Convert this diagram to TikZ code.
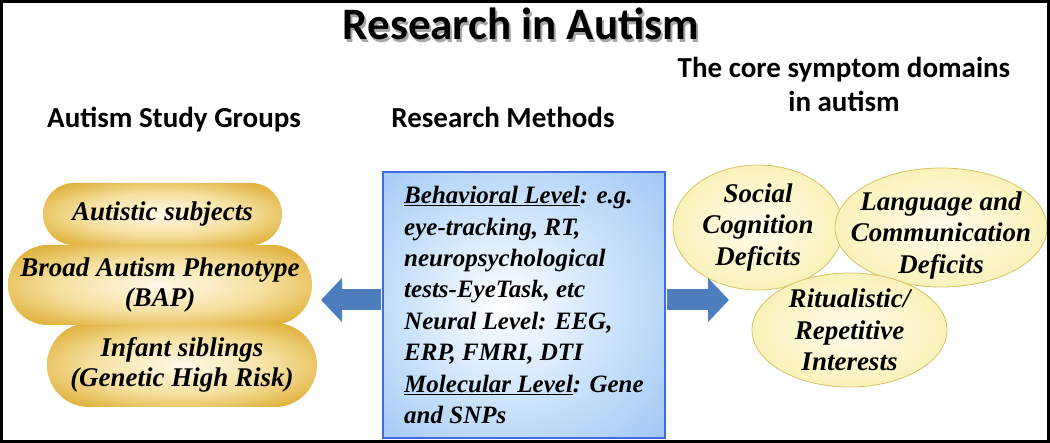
\documentclass[tikz,border=0pt]{standalone}
\usepackage{fontspec}
\setmainfont{Liberation Serif}
\newfontfamily\headfont{Carlito}
\usetikzlibrary{arrows.meta}
\usetikzlibrary{shapes.geometric,shapes.misc}

\definecolor{goldedge}{RGB}{196,140,14}
\definecolor{goldmid}{RGB}{222,174,52}
\definecolor{goldpale}{RGB}{246,224,160}
\definecolor{goldlight}{RGB}{255,249,232}
\definecolor{creamfill}{RGB}{250,242,186}
\definecolor{creamlight}{RGB}{255,252,236}
\definecolor{creamedge}{RGB}{214,194,96}
\definecolor{boxblue}{RGB}{128,178,238}
\definecolor{boxpale}{RGB}{205,228,251}
\definecolor{boxedge}{RGB}{64,106,228}
\definecolor{arrowblue}{RGB}{76,126,190}

\pgfdeclareradialshading{goldpill}{\pgfpoint{0bp}{0bp}}{color(0bp)=(goldlight);
  color(17bp)=(goldpale); color(32bp)=(goldmid); color(44bp)=(goldedge); color(50bp)=(goldedge)}
\pgfdeclareradialshading{methodsfill}{\pgfpoint{-4bp}{0bp}}{color(0bp)=(white);
  color(18bp)=(boxpale); color(50bp)=(boxblue)}

\begin{document}
\begin{tikzpicture}[x=1pt,y=-1pt,
    heading/.style={font=\headfont\bfseries\fontsize{29}{34}\selectfont,align=center},
    group/.style={rounded rectangle,inner sep=0pt,shade,shading=goldpill,
      align=center,font=\bfseries\itshape\fontsize{27}{29.5}\selectfont},
    symptom/.style={ellipse,inner sep=0pt,draw=creamedge,line width=0.8pt,
      inner color=creamlight,outer color=creamfill},
    symptomtext/.style={align=center,font=\bfseries\itshape\fontsize{27}{31.5}\selectfont},
    bigarrow/.style={line width=21pt,draw=arrowblue,-{Triangle[width=43pt,length=21pt]}}]
  \useasboundingbox (0,0) rectangle (1050,443);

  % title with its shadow
  \node[anchor=base,text=black!35,font=\headfont\bfseries\fontsize{45}{50}\selectfont] (titleshadow) at (523,43) {Research in Autism};
  \node[anchor=base,font=\headfont\bfseries\fontsize{45}{50}\selectfont] (title) at (521,40) {Research in Autism};

  \node[heading,anchor=base] (groupshead) at (174,128) {Autism Study Groups};
  \node[heading,anchor=base] (methodshead) at (503,128) {Research Methods};
  \node[heading,anchor=base] (symptomshead) at (844,112) {The core symptom domains\\in autism};

  % study groups
  \node[group,minimum width=239,minimum height=62] (subjects) at (162.5,214) {Autistic subjects};
  \node[group,minimum width=270,minimum height=84] (siblings) at (182,365) {Infant siblings\\(Genetic High Risk)};
  \node[group,minimum width=304,minimum height=80] (bap) at (160,285) {Broad Autism Phenotype\\(BAP)};

  % research methods
  \node[minimum width=282,minimum height=266,draw=boxedge,line width=2pt,
    shade,shading=methodsfill,align=left,
    font=\bfseries\itshape\fontsize{25}{31.4}\selectfont] (methods) at (524,305)
    {\underline{Behavioral Level}: e.g.\\
     eye-tracking, RT,\\
     neuropsychological\\
     tests-EyeTask, etc\\
     Neural Level: EEG,\\
     ERP, FMRI, DTI\\
     \underline{Molecular Level}: Gene\\
     and SNPs};

  % symptom domains
  \node[symptom,minimum width=170,minimum height=125] (social) at (758,227.5) {};
  \node[symptomtext] (socialtext) at (social) {Social\\Cognition\\Deficits};
  \node[symptom,minimum width=212,minimum height=119] (language) at (941,227.5) {};
  \node[symptomtext] (languagetext) at ([yshift=-8pt]language.center) {Language and\\Communication\\Deficits};
  \node[symptom,minimum width=195,minimum height=114] (ritual) at (849.5,330) {};
  \node[symptomtext] (ritualtext) at (ritual) {Ritualistic/\\Repetitive\\Interests};

  \coordinate (lefttip) at (321,300);
  \coordinate (righttip) at (729,300);
  \draw[bigarrow,shorten <=1pt] (methods.west |- lefttip) -- (lefttip);
  \draw[bigarrow,shorten <=1pt] (methods.east |- righttip) -- (righttip);

  \draw[line width=3pt] (1.5,1.5) rectangle (1048.5,441.5);
\end{tikzpicture}
\end{document}
